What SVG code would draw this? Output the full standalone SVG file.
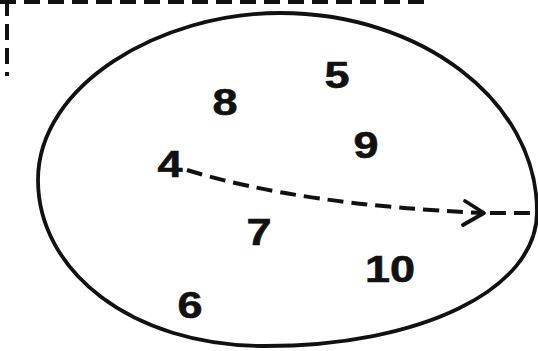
<svg xmlns="http://www.w3.org/2000/svg" width="538" height="351" viewBox="0 0 538 351">
<style>
.num{font-family:"Liberation Sans",Arial,sans-serif;font-weight:bold;font-size:36px;fill:#111;text-anchor:middle;stroke:#111;stroke-width:0.6}
.dash{fill:none;stroke:#111;stroke-width:4;stroke-dasharray:16 8}
.solid{fill:none;stroke:#111;stroke-width:3.8;stroke-linecap:round;stroke-linejoin:round}
</style>
<rect width="538" height="351" fill="#fff"/>
<g id="frame">
<path class="dash" d="M0,2 H427" stroke-width="5" stroke-dasharray="15 5"/>
<path class="dash" d="M7,0 V76" stroke-width="4.5" stroke-dasharray="18 9"/>
</g>
<g id="set">
<path class="solid" d="M38,180 C38,85 160,13 280,13 C420,13 537,100 537,212 C537,290 420,346 265,346 C130,346 38,270 38,180 Z"/>
</g>
<g id="n5"><text class="num" transform="translate(337,88) scale(1.25,1)">5</text></g>
<g id="n8"><text class="num" transform="translate(225,115) scale(1.25,1)">8</text></g>
<g id="n9"><text class="num" transform="translate(366,158) scale(1.25,1)">9</text></g>
<g id="n4"><text class="num" transform="translate(170,177) scale(1.25,1)">4</text></g>
<g id="n7"><text class="num" transform="translate(259,245) scale(1.25,1)">7</text></g>
<g id="n10"><text class="num" transform="translate(390,282) scale(1.25,1)">10</text></g>
<g id="n6"><text class="num" transform="translate(190,318) scale(1.25,1)">6</text></g>
<g id="connectors">
<path class="dash" d="M187,170 Q300,205 484,213"/>
<path class="solid" d="M465,201 L484,213 L463,225" stroke-width="4.5"/>
<path class="dash" d="M490,213 H538"/>
</g>
</svg>
